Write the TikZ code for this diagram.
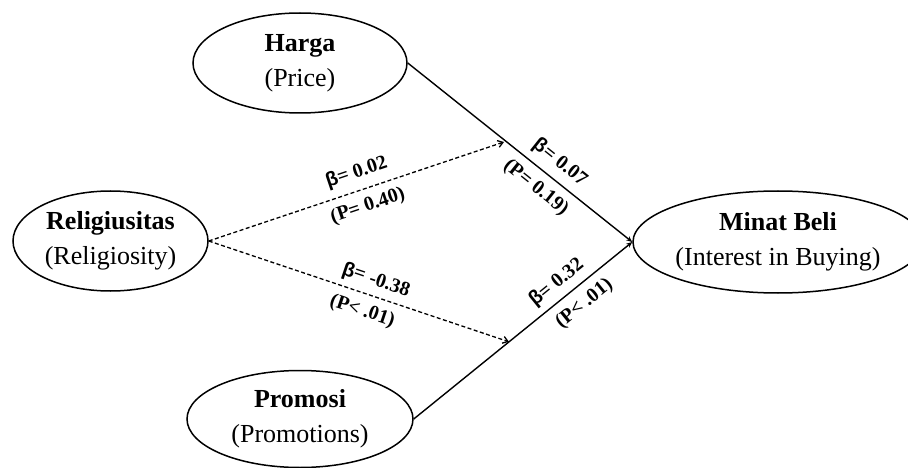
\documentclass[tikz,border=0pt]{standalone}
\usepackage{fontspec}
\setmainfont{Liberation Serif}
\newfontfamily\betafont{Liberation Sans}
\usetikzlibrary{arrows.meta,shapes.geometric,calc}
\newcommand{\bb}{{\betafont\bfseries β}}
\begin{document}
\begin{tikzpicture}[x=1pt,y=-1pt,
  var/.style={ellipse,draw,line width=1.5pt,inner sep=0pt,align=center,font=\fontsize{26}{35}\selectfont},
  pathline/.style={line width=1.4pt,-{Stealth[length=6pt,width=5pt]}},
  modline/.style={line width=1.3pt,dash pattern=on 4pt off 2.5pt,-{Straight Barb[length=5pt,width=7pt]}},
  lab/.style={font=\fontsize{20}{22}\selectfont\bfseries,sloped,inner sep=0pt}]
\useasboundingbox (0,0) rectangle (908,468);
\node[var,minimum width=214pt,minimum height=100pt] (H) at (300,63) {\textbf{Harga}\\(Price)};
\node[var,minimum width=195pt,minimum height=100pt] (R) at (110.5,241) {\textbf{Religiusitas}\\(Religiosity)};
\node[var,minimum width=226pt,minimum height=97pt] (P) at (300,419) {\textbf{Promosi}\\(Promotions)};
\node[var,minimum width=258pt,minimum height=102pt] (M) at (778,242) {\textbf{Minat Beli}\\(Interest in Buying)};
\coordinate (t1) at (504,142);
\coordinate (t2) at ($(P.east)!0.436!(M.west)$);
\draw[pathline] (H.east) -- node[lab,pos=0.63,above=7pt]{\bb= 0.07} node[lab,pos=0.62,below=8pt]{(P= 0.19)} (M.west);
\draw[pathline] (P.east) -- node[lab,pos=0.7,above=6pt]{\bb= 0.32} node[lab,pos=0.73,below=8pt]{(P< .01)} (M.west);
\draw[modline] (R.east) -- node[lab,pos=0.52,above=8pt]{\bb= 0.02} node[lab,pos=0.52,below=8pt]{(P= 0.40)} (t1);
\draw[modline] (R.east) -- node[lab,pos=0.54,above=6pt]{\bb= -0.38} node[lab,pos=0.53,below=8pt]{(P< .01)} (t2);
\end{tikzpicture}
\end{document}
